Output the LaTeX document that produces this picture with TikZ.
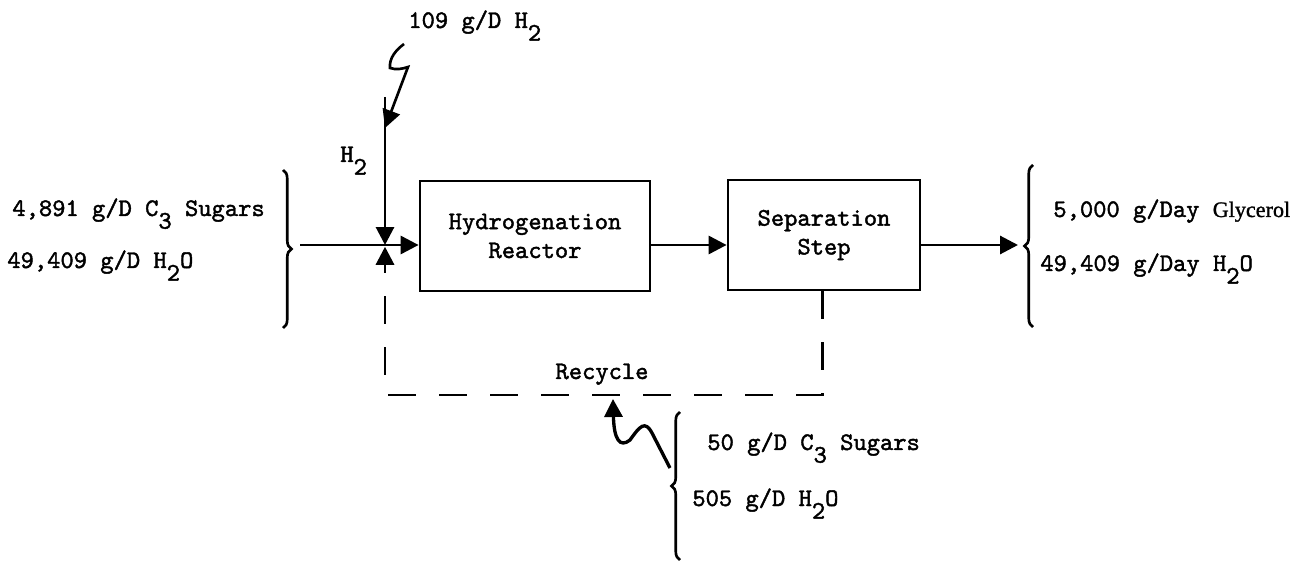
\documentclass[tikz,border=0pt]{standalone}
\usepackage{fontspec}
\setmonofont{lmmono10-regular.otf}[FakeBold=1.6]
\newfontfamily\glyfont{Liberation Serif}[FakeBold=1.2]
\usetikzlibrary{arrows.meta,decorations.pathreplacing}
\newcommand\subx[1]{\raisebox{-0.5em}{#1}}

\begin{document}
\begin{tikzpicture}[x=0.02cm,y=-0.02cm,
  font=\ttfamily\fontsize{14.4}{16.4}\selectfont,
  unitbox/.style={draw,line width=1.6pt,minimum height=2.2cm,align=center,inner sep=0pt},
  flow/.style={line width=1.7pt,-{Triangle[length=0.36cm,width=0.36cm]}},
  recyc/.style={line width=2.2pt,dash pattern=on 0.56cm off 0.46cm},
  lbl/.style={inner sep=0pt,anchor=base west},
  bracer/.style={decorate,decoration={brace,amplitude=0.17cm},line width=1.5pt}]
\useasboundingbox (0,0) rectangle (1302,567);

\node[unitbox,minimum width=4.6cm] (hyd) at (535,236) {Hydrogenation\\Reactor};
\node[unitbox,minimum width=3.84cm] (sep) at (824,235) {Separation\\Step};

\coordinate (mix) at (385,245);
\coordinate (feedin) at (300,245);
\coordinate (h2top) at (385,97);
\coordinate (rcR) at (822,395);
\coordinate (rcL) at (385,395);
\coordinate (outtip) at (1018,245);
\coordinate (h2src) at (404,44);
\coordinate (h2hit) at (385,128);
\coordinate (mksrc) at (670,468);
\coordinate (mkhit) at (613,399);

\node[lbl] (h2feed) at (408,28) {109 g/D H\subx{2}};
\node[lbl] (h2line) at (340,162) {H\subx{2}};
\node[lbl] (feedsug) at (12,216) {4,891 g/D C\subx{3} Sugars};
\node[lbl] (feedwat) at (7,268) {49,409 g/D H\subx{2}O};
\node[lbl] (prodgly) at (1053,217) {5,000 g/Day {\glyfont\fontsize{12.6}{14}\selectfont Glycerol}};
\node[lbl] (prodwat) at (1040,271) {49,409 g/Day H\subx{2}O};
\node[lbl] (mksug) at (707,450) {50 g/D C\subx{3} Sugars};
\node[lbl] (mkwat) at (692,506) {505 g/D H\subx{2}O};
\node[inner sep=0pt,anchor=base] (rclbl) at (602,379) {Recycle};

\draw[flow] (feedin) -- (mix -| hyd.west);
\draw[flow] (h2top) -- (mix);
\draw[flow] (mix -| hyd.east) -- (mix -| sep.west);
\draw[flow] (mix -| sep.east) -- (outtip);
\draw[recyc,flow,shorten >=1pt] (sep.south -| rcR) -- (rcR) -- (rcL) -- (mix);

\draw[flow,line width=1.5pt] (h2src) .. controls (396,50) and (389,58) .. (390,68) .. controls (396,70) and (402,69) .. (408,67) -- (h2hit);
\draw[flow,line width=1.9pt] (mksrc) -- (652,433) .. controls (645,420) and (640,426) .. (630,440) .. controls (620,448) and (614,440) .. (mkhit);

\draw[bracer] (283,170) -- (283,328);
\draw[bracer] (1033,327) -- (1033,165);
\draw[bracer] (680,560) -- (680,412);

\end{tikzpicture}
\end{document}
